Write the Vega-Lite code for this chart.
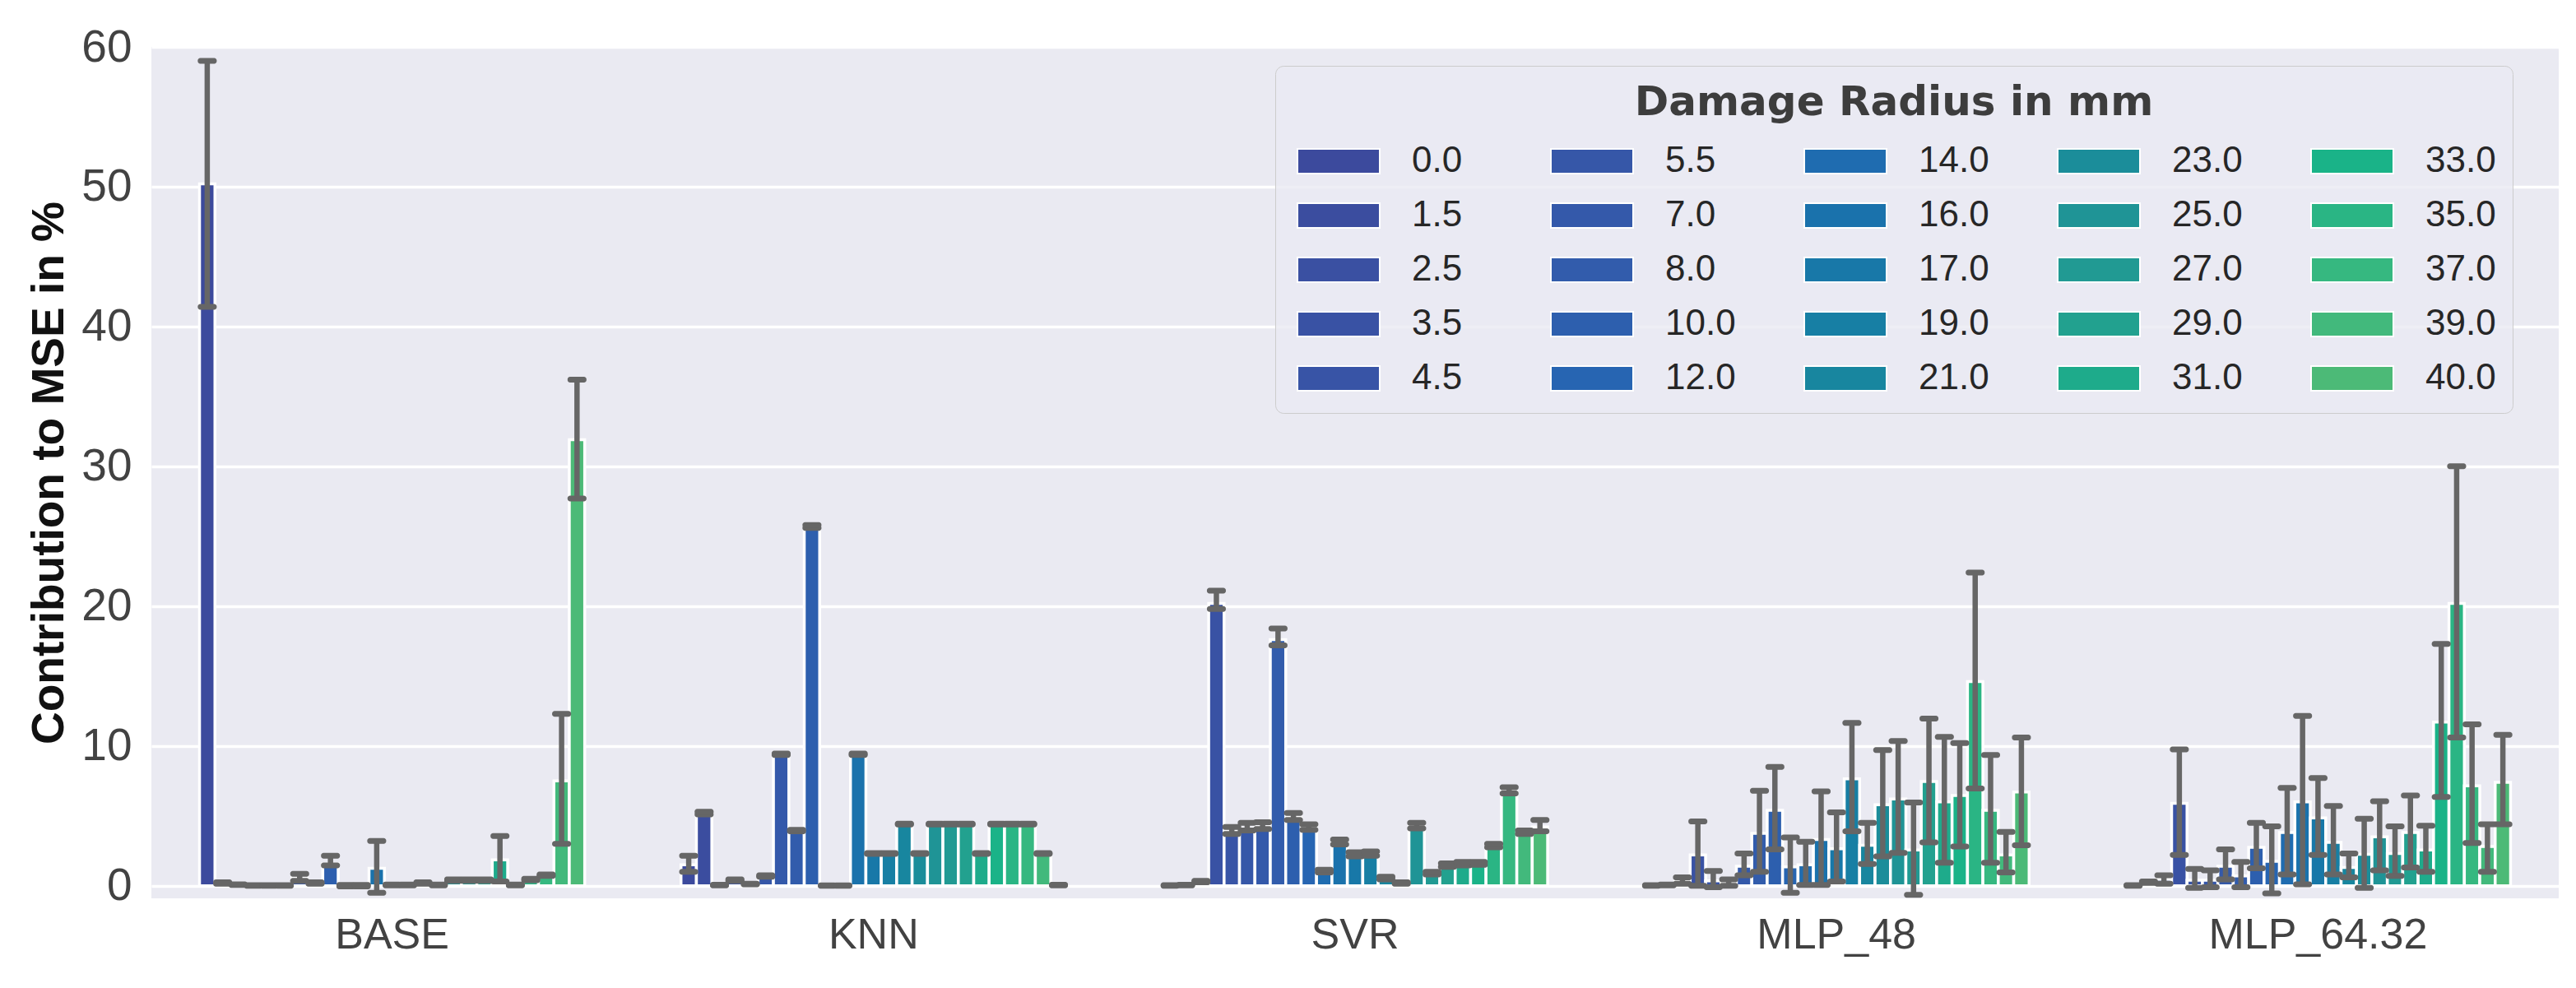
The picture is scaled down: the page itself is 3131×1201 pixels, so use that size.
{
  "$schema": "https://vega.github.io/schema/vega-lite/v6.json",
  "width": 2926,
  "height": 1035,
  "autosize": {"type": "none"},
  "padding": {"left": 184, "top": 57, "right": 21, "bottom": 109},
  "background": "white",
  "config": {
    "view": {"fill": "#eaeaf2", "stroke": null},
    "font": "Liberation Sans",
    "axis": {"domain": false, "ticks": false, "labelFont": "Liberation Sans", "titleFont": "Liberation Sans", "labelColor": "#424242", "labelLimit": 1000, "titleLimit": 2000}
  },
  "datasets": {
    "rows": [
      {"model": "BASE", "radius": "0.0", "mean": 50.2, "lo": 41.4, "hi": 59.0},
      {"model": "BASE", "radius": "1.5", "mean": 0.2, "lo": 0.15, "hi": 0.25},
      {"model": "BASE", "radius": "2.5", "mean": 0.08, "lo": 0.05, "hi": 0.1},
      {"model": "BASE", "radius": "3.5", "mean": 0.02, "lo": 0.0, "hi": 0.04},
      {"model": "BASE", "radius": "4.5", "mean": 0.02, "lo": 0.0, "hi": 0.04},
      {"model": "BASE", "radius": "5.5", "mean": 0.02, "lo": 0.0, "hi": 0.04},
      {"model": "BASE", "radius": "7.0", "mean": 0.55, "lo": 0.35, "hi": 0.85},
      {"model": "BASE", "radius": "8.0", "mean": 0.2, "lo": 0.15, "hi": 0.25},
      {"model": "BASE", "radius": "10.0", "mean": 1.55, "lo": 1.45, "hi": 2.15},
      {"model": "BASE", "radius": "12.0", "mean": 0.0, "lo": -0.05, "hi": 0.05},
      {"model": "BASE", "radius": "14.0", "mean": 0.0, "lo": -0.05, "hi": 0.05},
      {"model": "BASE", "radius": "16.0", "mean": 1.25, "lo": -0.5, "hi": 3.2},
      {"model": "BASE", "radius": "17.0", "mean": 0.05, "lo": 0.02, "hi": 0.08},
      {"model": "BASE", "radius": "19.0", "mean": 0.05, "lo": 0.02, "hi": 0.08},
      {"model": "BASE", "radius": "21.0", "mean": 0.2, "lo": 0.15, "hi": 0.25},
      {"model": "BASE", "radius": "23.0", "mean": 0.05, "lo": 0.02, "hi": 0.08},
      {"model": "BASE", "radius": "25.0", "mean": 0.4, "lo": 0.35, "hi": 0.45},
      {"model": "BASE", "radius": "27.0", "mean": 0.4, "lo": 0.35, "hi": 0.45},
      {"model": "BASE", "radius": "29.0", "mean": 0.4, "lo": 0.35, "hi": 0.45},
      {"model": "BASE", "radius": "31.0", "mean": 1.85, "lo": 0.3, "hi": 3.55},
      {"model": "BASE", "radius": "33.0", "mean": 0.05, "lo": 0.02, "hi": 0.08},
      {"model": "BASE", "radius": "35.0", "mean": 0.45, "lo": 0.4, "hi": 0.5},
      {"model": "BASE", "radius": "37.0", "mean": 0.75, "lo": 0.7, "hi": 0.8},
      {"model": "BASE", "radius": "39.0", "mean": 7.5, "lo": 3.0, "hi": 12.3},
      {"model": "BASE", "radius": "40.0", "mean": 31.9, "lo": 27.7, "hi": 36.2},

      {"model": "KNN", "radius": "0.0", "mean": 1.5, "lo": 1.0, "hi": 2.15},
      {"model": "KNN", "radius": "1.5", "mean": 5.2, "lo": 5.1, "hi": 5.3},
      {"model": "KNN", "radius": "2.5", "mean": 0.05, "lo": 0.03, "hi": 0.07},
      {"model": "KNN", "radius": "3.5", "mean": 0.4, "lo": 0.35, "hi": 0.45},
      {"model": "KNN", "radius": "4.5", "mean": 0.12, "lo": 0.1, "hi": 0.14},
      {"model": "KNN", "radius": "5.5", "mean": 0.7, "lo": 0.65, "hi": 0.75},
      {"model": "KNN", "radius": "7.0", "mean": 9.4, "lo": 9.35, "hi": 9.45},
      {"model": "KNN", "radius": "8.0", "mean": 3.95, "lo": 3.9, "hi": 4.0},
      {"model": "KNN", "radius": "10.0", "mean": 25.7, "lo": 25.6, "hi": 25.8},
      {"model": "KNN", "radius": "12.0", "mean": 0.02, "lo": 0.0, "hi": 0.03},
      {"model": "KNN", "radius": "14.0", "mean": 0.02, "lo": 0.0, "hi": 0.03},
      {"model": "KNN", "radius": "16.0", "mean": 9.4, "lo": 9.35, "hi": 9.45},
      {"model": "KNN", "radius": "17.0", "mean": 2.3, "lo": 2.28, "hi": 2.34},
      {"model": "KNN", "radius": "19.0", "mean": 2.3, "lo": 2.28, "hi": 2.34},
      {"model": "KNN", "radius": "21.0", "mean": 4.4, "lo": 4.38, "hi": 4.44},
      {"model": "KNN", "radius": "23.0", "mean": 2.3, "lo": 2.28, "hi": 2.34},
      {"model": "KNN", "radius": "25.0", "mean": 4.4, "lo": 4.38, "hi": 4.44},
      {"model": "KNN", "radius": "27.0", "mean": 4.4, "lo": 4.38, "hi": 4.44},
      {"model": "KNN", "radius": "29.0", "mean": 4.4, "lo": 4.38, "hi": 4.44},
      {"model": "KNN", "radius": "31.0", "mean": 2.3, "lo": 2.28, "hi": 2.34},
      {"model": "KNN", "radius": "33.0", "mean": 4.4, "lo": 4.38, "hi": 4.44},
      {"model": "KNN", "radius": "35.0", "mean": 4.4, "lo": 4.38, "hi": 4.44},
      {"model": "KNN", "radius": "37.0", "mean": 4.4, "lo": 4.38, "hi": 4.44},
      {"model": "KNN", "radius": "39.0", "mean": 2.3, "lo": 2.28, "hi": 2.34},
      {"model": "KNN", "radius": "40.0", "mean": 0.05, "lo": 0.03, "hi": 0.07},

      {"model": "SVR", "radius": "0.0", "mean": 0.02, "lo": 0.0, "hi": 0.04},
      {"model": "SVR", "radius": "1.5", "mean": 0.05, "lo": 0.03, "hi": 0.07},
      {"model": "SVR", "radius": "2.5", "mean": 0.3, "lo": 0.25, "hi": 0.35},
      {"model": "SVR", "radius": "3.5", "mean": 20.2, "lo": 19.8, "hi": 21.1},
      {"model": "SVR", "radius": "4.5", "mean": 3.9, "lo": 3.7, "hi": 4.2},
      {"model": "SVR", "radius": "5.5", "mean": 4.1, "lo": 3.95, "hi": 4.5},
      {"model": "SVR", "radius": "7.0", "mean": 4.2, "lo": 4.05, "hi": 4.55},
      {"model": "SVR", "radius": "8.0", "mean": 17.6, "lo": 17.2, "hi": 18.4},
      {"model": "SVR", "radius": "10.0", "mean": 4.9, "lo": 4.7, "hi": 5.2},
      {"model": "SVR", "radius": "12.0", "mean": 4.2, "lo": 4.0, "hi": 4.4},
      {"model": "SVR", "radius": "14.0", "mean": 1.05, "lo": 0.95, "hi": 1.15},
      {"model": "SVR", "radius": "16.0", "mean": 3.1, "lo": 2.95, "hi": 3.3},
      {"model": "SVR", "radius": "17.0", "mean": 2.25, "lo": 2.1, "hi": 2.4},
      {"model": "SVR", "radius": "19.0", "mean": 2.3, "lo": 2.15, "hi": 2.45},
      {"model": "SVR", "radius": "21.0", "mean": 0.55, "lo": 0.45, "hi": 0.65},
      {"model": "SVR", "radius": "23.0", "mean": 0.2, "lo": 0.15, "hi": 0.25},
      {"model": "SVR", "radius": "25.0", "mean": 4.3, "lo": 4.1, "hi": 4.5},
      {"model": "SVR", "radius": "27.0", "mean": 0.9, "lo": 0.8, "hi": 1.0},
      {"model": "SVR", "radius": "29.0", "mean": 1.45, "lo": 1.35, "hi": 1.6},
      {"model": "SVR", "radius": "31.0", "mean": 1.55, "lo": 1.45, "hi": 1.7},
      {"model": "SVR", "radius": "33.0", "mean": 1.6, "lo": 1.5, "hi": 1.7},
      {"model": "SVR", "radius": "35.0", "mean": 2.85, "lo": 2.75, "hi": 3.0},
      {"model": "SVR", "radius": "37.0", "mean": 6.8, "lo": 6.6, "hi": 7.05},
      {"model": "SVR", "radius": "39.0", "mean": 3.8, "lo": 3.7, "hi": 3.95},
      {"model": "SVR", "radius": "40.0", "mean": 4.2, "lo": 3.9, "hi": 4.7},

      {"model": "MLP_48", "radius": "0.0", "mean": 0.02, "lo": 0.0, "hi": 0.04},
      {"model": "MLP_48", "radius": "1.5", "mean": 0.05, "lo": 0.03, "hi": 0.08},
      {"model": "MLP_48", "radius": "2.5", "mean": 0.4, "lo": 0.15, "hi": 0.6},
      {"model": "MLP_48", "radius": "3.5", "mean": 2.2, "lo": 0.0, "hi": 4.6},
      {"model": "MLP_48", "radius": "4.5", "mean": 0.35, "lo": -0.1, "hi": 1.05},
      {"model": "MLP_48", "radius": "5.5", "mean": 0.2, "lo": 0.0, "hi": 0.45},
      {"model": "MLP_48", "radius": "7.0", "mean": 1.4, "lo": 0.75, "hi": 2.3},
      {"model": "MLP_48", "radius": "8.0", "mean": 3.75, "lo": 1.0, "hi": 6.8},
      {"model": "MLP_48", "radius": "10.0", "mean": 5.4, "lo": 2.6, "hi": 8.5},
      {"model": "MLP_48", "radius": "12.0", "mean": 1.35, "lo": -0.5, "hi": 3.45},
      {"model": "MLP_48", "radius": "14.0", "mean": 1.5, "lo": 0.05, "hi": 3.15},
      {"model": "MLP_48", "radius": "16.0", "mean": 3.3, "lo": 0.05, "hi": 6.75},
      {"model": "MLP_48", "radius": "17.0", "mean": 2.65, "lo": 0.3, "hi": 5.25},
      {"model": "MLP_48", "radius": "19.0", "mean": 7.65, "lo": 3.9, "hi": 11.65},
      {"model": "MLP_48", "radius": "21.0", "mean": 2.9, "lo": 1.55, "hi": 4.5},
      {"model": "MLP_48", "radius": "23.0", "mean": 5.8, "lo": 2.1, "hi": 9.7},
      {"model": "MLP_48", "radius": "25.0", "mean": 6.2, "lo": 2.35, "hi": 10.35},
      {"model": "MLP_48", "radius": "27.0", "mean": 2.55, "lo": -0.65, "hi": 5.95},
      {"model": "MLP_48", "radius": "29.0", "mean": 7.45, "lo": 3.1, "hi": 11.95},
      {"model": "MLP_48", "radius": "31.0", "mean": 6.0, "lo": 1.65, "hi": 10.65},
      {"model": "MLP_48", "radius": "33.0", "mean": 6.45, "lo": 2.8, "hi": 10.2},
      {"model": "MLP_48", "radius": "35.0", "mean": 14.6, "lo": 6.95, "hi": 22.4},
      {"model": "MLP_48", "radius": "37.0", "mean": 5.4, "lo": 1.65, "hi": 9.35},
      {"model": "MLP_48", "radius": "39.0", "mean": 2.2, "lo": 0.95, "hi": 3.85},
      {"model": "MLP_48", "radius": "40.0", "mean": 6.7, "lo": 2.9, "hi": 10.6},

      {"model": "MLP_64.32", "radius": "0.0", "mean": 0.02, "lo": 0.0, "hi": 0.04},
      {"model": "MLP_64.32", "radius": "1.5", "mean": 0.25, "lo": 0.2, "hi": 0.3},
      {"model": "MLP_64.32", "radius": "2.5", "mean": 0.45, "lo": 0.15, "hi": 0.75},
      {"model": "MLP_64.32", "radius": "3.5", "mean": 5.9, "lo": 2.2, "hi": 9.75},
      {"model": "MLP_64.32", "radius": "4.5", "mean": 0.4, "lo": -0.15, "hi": 1.2},
      {"model": "MLP_64.32", "radius": "5.5", "mean": 0.4, "lo": -0.1, "hi": 1.1},
      {"model": "MLP_64.32", "radius": "7.0", "mean": 1.4, "lo": 0.45, "hi": 2.6},
      {"model": "MLP_64.32", "radius": "8.0", "mean": 0.7, "lo": -0.1, "hi": 1.7},
      {"model": "MLP_64.32", "radius": "10.0", "mean": 2.75, "lo": 1.25, "hi": 4.5},
      {"model": "MLP_64.32", "radius": "12.0", "mean": 1.75, "lo": -0.55, "hi": 4.25},
      {"model": "MLP_64.32", "radius": "14.0", "mean": 3.8, "lo": 0.8, "hi": 7.0},
      {"model": "MLP_64.32", "radius": "16.0", "mean": 6.0, "lo": 0.1, "hi": 12.15},
      {"model": "MLP_64.32", "radius": "17.0", "mean": 4.85, "lo": 2.2, "hi": 7.7},
      {"model": "MLP_64.32", "radius": "19.0", "mean": 3.1, "lo": 0.8, "hi": 5.7},
      {"model": "MLP_64.32", "radius": "21.0", "mean": 1.3, "lo": 0.6, "hi": 2.3},
      {"model": "MLP_64.32", "radius": "23.0", "mean": 2.25, "lo": -0.15, "hi": 4.8},
      {"model": "MLP_64.32", "radius": "25.0", "mean": 3.5, "lo": 1.1, "hi": 6.05},
      {"model": "MLP_64.32", "radius": "27.0", "mean": 2.3, "lo": 0.7, "hi": 4.25},
      {"model": "MLP_64.32", "radius": "29.0", "mean": 3.8, "lo": 1.3, "hi": 6.45},
      {"model": "MLP_64.32", "radius": "31.0", "mean": 2.55, "lo": 1.0, "hi": 4.3},
      {"model": "MLP_64.32", "radius": "33.0", "mean": 11.7, "lo": 6.35, "hi": 17.3},
      {"model": "MLP_64.32", "radius": "35.0", "mean": 20.2, "lo": 10.6, "hi": 30.0},
      {"model": "MLP_64.32", "radius": "37.0", "mean": 7.15, "lo": 3.05, "hi": 11.55},
      {"model": "MLP_64.32", "radius": "39.0", "mean": 2.8, "lo": 1.0, "hi": 4.4},
      {"model": "MLP_64.32", "radius": "40.0", "mean": 7.4, "lo": 4.4, "hi": 10.8}
    ]
  },
  "data": {"name": "rows"},
  "encoding": {
    "x": {
      "field": "model", "type": "nominal",
      "sort": ["BASE", "KNN", "SVR", "MLP_48", "MLP_64.32"],
      "scale": {"paddingInner": 0.2, "paddingOuter": 0.1},
      "axis": {"title": null, "labelAngle": 0, "labelFontSize": 52, "labelPadding": 19, "grid": false, "labelColor": "#424242", "labelLimit": 1000}
    },
    "xOffset": {
      "field": "radius", "type": "nominal",
      "scale": {
        "domain": ["0.0", "1.5", "2.5", "3.5", "4.5", "5.5", "7.0", "8.0", "10.0", "12.0", "14.0", "16.0", "17.0", "19.0", "21.0", "23.0", "25.0", "27.0", "29.0", "31.0", "33.0", "35.0", "37.0", "39.0", "40.0"],
        "paddingInner": 0, "paddingOuter": 0
      }
    }
  },
  "layer": [
    {
      "mark": {"type": "bar", "stroke": "white", "strokeWidth": 3.5},
      "encoding": {
        "y": {
          "field": "mean", "type": "quantitative",
          "title": "Contribution to MSE in %",
          "scale": {"domain": [-0.9, 60], "nice": false, "zero": false},
          "axis": {
            "values": [0, 10, 20, 30, 40, 50, 60],
            "labelFontSize": 55, "labelPadding": 24, "labelColor": "#424242",
            "grid": true, "gridColor": "white", "gridWidth": 3.5,
            "titleFontSize": 55, "titleFontWeight": "bold", "titleColor": "#111111", "titlePadding": 10
          }
        },
        "color": {
          "field": "radius", "type": "nominal",
          "scale": {
            "domain": ["0.0", "1.5", "2.5", "3.5", "4.5", "5.5", "7.0", "8.0", "10.0", "12.0", "14.0", "16.0", "17.0", "19.0", "21.0", "23.0", "25.0", "27.0", "29.0", "31.0", "33.0", "35.0", "37.0", "39.0", "40.0"],
            "range": ["#3c4a9d", "#3b4d9f", "#3a50a2", "#3952a4", "#3854a6", "#3657a8", "#3459aa", "#325cac", "#2d5fae", "#2765b2", "#1f6cb0", "#1a72ac", "#1878a8", "#177fa4", "#18869f", "#1b8d9a", "#1f9496", "#219a93", "#22a18f", "#1eab8b", "#1ab388", "#2ab584", "#36b880", "#42b97c", "#4cba77"]
          },
          "legend": {
            "title": "Damage Radius in mm",
            "orient": "none", "legendX": 1366, "legendY": 23,
            "columns": 5, "columnPadding": 76, "rowPadding": 22, "gridAlign": "all",
            "symbolType": "M-1,-1H5.667V1H-1Z", "symbolSize": 900,
            "symbolStrokeColor": "white", "symbolStrokeWidth": 2, "symbolOpacity": 1,
            "labelFontSize": 44, "labelOffset": 102, "labelColor": "#262626", "labelFont": "Liberation Sans", "labelLimit": 400,
            "titleFontSize": 50, "titleFontWeight": "bold", "titleColor": "#3d3d3d", "titleFont": "DejaVu Sans", "titleLimit": 2000,
            "titleAnchor": "middle", "titlePadding": 24,
            "padding": 20, "fillColor": "rgba(234,234,242,0.8)", "strokeColor": "#cccccc", "cornerRadius": 10
          }
        }
      }
    },
    {
      "mark": {"type": "rule", "color": "#666666", "strokeWidth": 6.5},
      "encoding": {
        "y": {"field": "lo", "type": "quantitative", "title": "Contribution to MSE in %"},
        "y2": {"field": "hi"}
      }
    },
    {
      "mark": {"type": "tick", "color": "#666666", "size": 23, "thickness": 7, "cornerRadius": 3, "opacity": 1},
      "encoding": {
        "y": {"field": "lo", "type": "quantitative", "title": "Contribution to MSE in %"}
      }
    },
    {
      "mark": {"type": "tick", "color": "#666666", "size": 23, "thickness": 7, "cornerRadius": 3, "opacity": 1},
      "encoding": {
        "y": {"field": "hi", "type": "quantitative", "title": "Contribution to MSE in %"}
      }
    }
  ]
}
